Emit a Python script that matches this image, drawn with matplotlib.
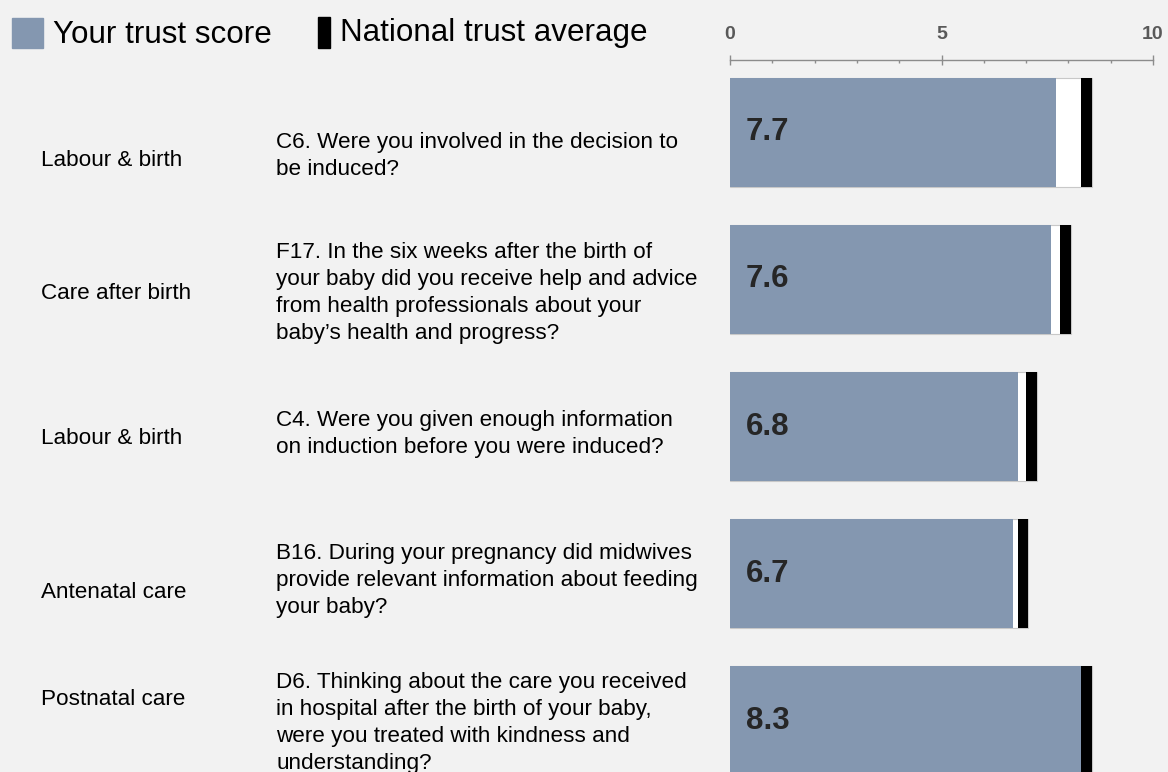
import matplotlib.pyplot as plt
import numpy as np
from matplotlib.patches import Rectangle
from matplotlib.ticker import MultipleLocator

categories = ['Labour & birth', 'Care after birth', 'Labour & birth',
              'Antenatal care', 'Postnatal care']
questions = [
    'C6. Were you involved in the decision to\nbe induced?',
    'F17. In the six weeks after the birth of\nyour baby did you receive help and advice\n'
    'from health professionals about your\nbaby\u2019s health and progress?',
    'C4. Were you given enough information\non induction before you were induced?',
    'B16. During your pregnancy did midwives\nprovide relevant information about feeding\nyour baby?',
    'D6. Thinking about the care you received\nin hospital after the birth of your baby,\n'
    'were you treated with kindness and\nunderstanding?',
]
trust_score = [7.7, 7.6, 6.8, 6.7, 8.3]
national_avg = [8.55, 8.05, 7.25, 7.05, 8.55]

W, H = 1168, 772
# baselines of the left text columns, in pixels from the top
cat_base = [166, 299, 444, 598, 705]
q_base = [148, 258, 426, 559, 688]
line_px = 27

plt.rcParams['font.family'] = ['Liberation Sans', 'DejaVu Sans']
blue = '#8497b0'
grey = '#8c8c8c'

fig = plt.figure(figsize=(W / 100, H / 100), dpi=100, facecolor='#f2f2f2')
ax = fig.add_axes([730 / W, 0, 423 / W, 712 / H])
ax.set_facecolor('none')

y = np.arange(len(trust_score))
h = 0.741
mark_w = 0.25
nat = np.array(national_avg)
ax.barh(y, nat, height=h, color='white', edgecolor='#c8c8c8', linewidth=0.8)
ax.barh(y, trust_score, height=h, color=blue, linewidth=0)
ax.barh(y, mark_w, left=nat - mark_w, height=h, color='black', linewidth=0)
for i, v in enumerate(trust_score):
    ax.text(0.38, i, f'{v:.1f}', va='center', ha='left', fontsize=22.5,
            fontweight='bold', color='#262626')

ax.set_xlim(0, 10)
ax.set_ylim(4.35, -0.493)
for s in ['left', 'right', 'bottom']:
    ax.spines[s].set_visible(False)
ax.spines['top'].set_color(grey)
ax.spines['top'].set_linewidth(1)
ax.xaxis.tick_top()
ax.xaxis.set_major_locator(MultipleLocator(5))
ax.xaxis.set_minor_locator(MultipleLocator(1))
ax.tick_params(axis='x', which='major', direction='inout', length=7, width=1,
               color=grey, pad=9, labelsize=14, labelcolor='#595959')
ax.tick_params(axis='x', which='minor', direction='in', length=2.2, width=1, color=grey)
for lab in ax.get_xticklabels():
    lab.set_fontweight('bold')
ax.set_yticks([])

# left text columns (multi-line text is anchored on its last baseline)
for c, q, cb, qb in zip(categories, questions, cat_base, q_base):
    fig.text(41 / W, 1 - cb / H, c, fontsize=16.2, va='baseline', color='black')
    last = qb + (q.count('\n')) * line_px
    fig.text(276 / W, 1 - last / H, q, fontsize=16.2, va='baseline', color='black',
             linespacing=1.37)

# legend
fig.patches.append(Rectangle((12 / W, 1 - 48 / H), 31 / W, 30 / H,
                             transform=fig.transFigure, color=blue))
fig.text(53 / W, 1 - 43 / H, 'Your trust score', fontsize=22.6, va='baseline')
fig.patches.append(Rectangle((318 / W, 1 - 48 / H), 12 / W, 31 / H,
                             transform=fig.transFigure, color='black'))
fig.text(340 / W, 1 - 41 / H, 'National trust average', fontsize=22.6, va='baseline')

plt.savefig('out.png', dpi=100, facecolor=fig.get_facecolor())
